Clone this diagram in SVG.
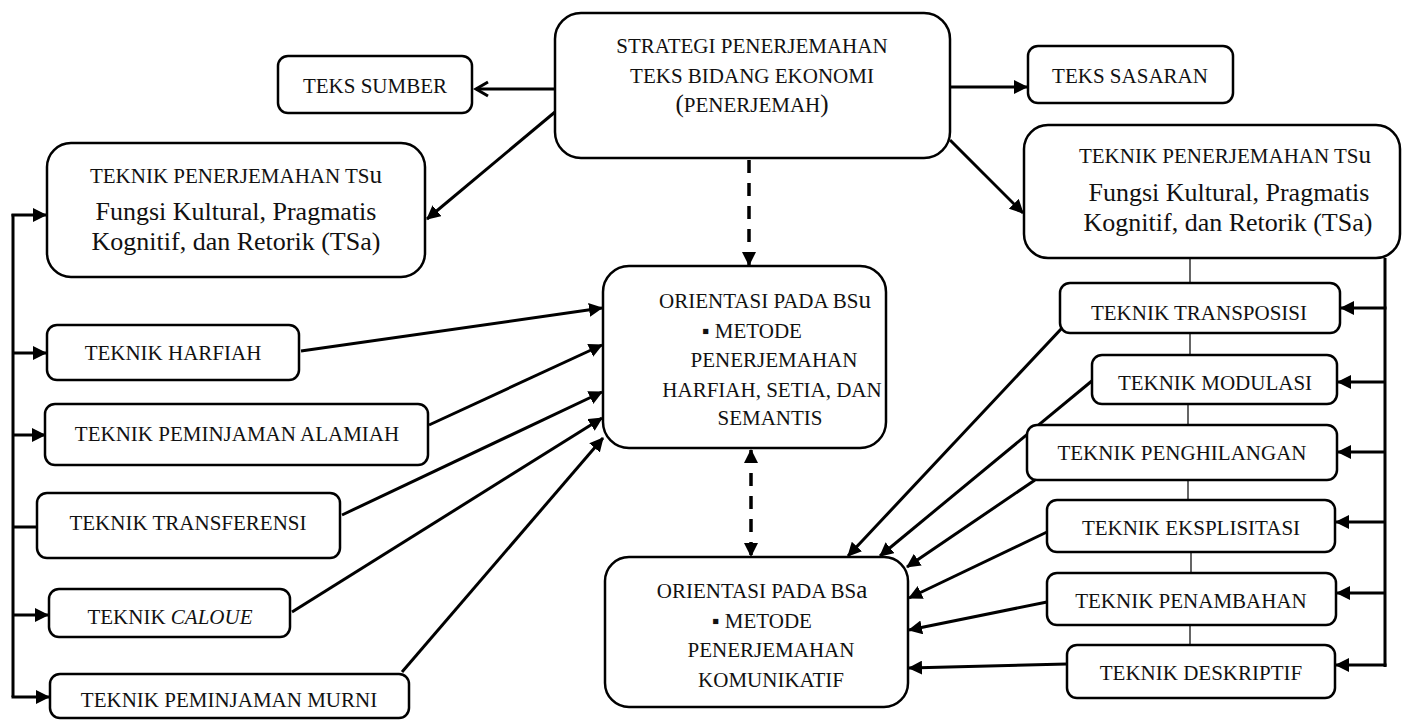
<svg xmlns="http://www.w3.org/2000/svg" width="1405" height="720" viewBox="0 0 1405 720">
<style>
.box{fill:#fff;stroke:#000;stroke-width:2.5}
.t{font-family:"Liberation Serif","Times New Roman",serif;font-size:21px;fill:#111;text-anchor:middle}
.big{font-size:26px}
.c{fill:none;stroke:#000;stroke-width:3}
.d{fill:none;stroke:#000;stroke-width:3.5;stroke-dasharray:13 10}
.thin{fill:none;stroke:#000;stroke-width:1.2}
</style>
<defs>
<marker id="a" markerUnits="userSpaceOnUse" markerWidth="14" markerHeight="14" refX="13" refY="7" orient="auto-start-reverse">
<path d="M0,0 L14,7 L0,14 z" fill="#000"/>
</marker>
<marker id="o" markerUnits="userSpaceOnUse" markerWidth="18" markerHeight="18" refX="14" refY="9" orient="auto">
<path d="M2,2 L14,9 L2,16" fill="none" stroke="#000" stroke-width="3"/>
</marker>
</defs>

<g id="connectors">
<path class="c" d="M555,89 L476,89" marker-end="url(#o)"/>
<path class="c" d="M950,87 L1027,87" marker-end="url(#a)"/>
<path class="c" d="M555,112 L427,219" marker-end="url(#a)"/>
<path class="c" d="M950,140 L1023,213" marker-end="url(#a)"/>
<path class="d" d="M749,160 L749,265" marker-end="url(#a)"/>
<path class="d" d="M751,450 L751,556" marker-start="url(#a)" marker-end="url(#a)"/>
<!-- left bar -->
<path class="c" d="M13,214 L13,697"/>
<path class="c" d="M11.5,215 L46,215" marker-end="url(#a)"/>
<path class="c" d="M13,353 L46,353" marker-end="url(#a)"/>
<path class="c" d="M13,435 L45,435" marker-end="url(#a)"/>
<path class="c" d="M13,527 L49,527" marker-end="url(#a)"/>
<path class="c" d="M13,615 L48,615" marker-end="url(#a)"/>
<path class="c" d="M11.5,697 L49,697" marker-end="url(#a)"/>
<!-- left to BSu -->
<path class="c" d="M301,351 L602,308" marker-end="url(#a)"/>
<path class="c" d="M429,425 L602,345" marker-end="url(#a)"/>
<path class="c" d="M342,515 L602,392" marker-end="url(#a)"/>
<path class="c" d="M292,612 L602,418" marker-end="url(#a)"/>
<path class="c" d="M402,672 L603,438" marker-end="url(#a)"/>
<!-- right bar -->
<path class="c" d="M1385,258 L1385,667"/>
<path class="c" d="M1386.5,308 L1341,308" marker-end="url(#a)"/>
<path class="c" d="M1385,382 L1338,382" marker-end="url(#a)"/>
<path class="c" d="M1385,452 L1338,452" marker-end="url(#a)"/>
<path class="c" d="M1385,522 L1336,522" marker-end="url(#a)"/>
<path class="c" d="M1385,593 L1337,593" marker-end="url(#a)"/>
<path class="c" d="M1386.5,665 L1336,665" marker-end="url(#a)"/>
<!-- thin chain -->
<path class="thin" d="M1190,258 L1190,283 M1190,333 L1190,355 M1188,404 L1188,425 M1188,480 L1188,500 M1191,552 L1191,573 M1190,625 L1190,645"/>
<!-- right to BSa -->
<path class="c" d="M1062,328 L848,556" marker-end="url(#a)"/>
<path class="c" d="M1093,380 L880,556" marker-end="url(#a)"/>
<path class="c" d="M1035,480 L907,567" marker-end="url(#a)"/>
<path class="c" d="M1047,532 L909,598" marker-end="url(#a)"/>
<path class="c" d="M1047,602 L909,630" marker-end="url(#a)"/>
<path class="c" d="M1067,664 L909,668" marker-end="url(#a)"/>
</g>

<g id="strategi">
<rect class="box" x="555" y="13" width="395" height="145" rx="26"/>
<text class="t" x="752" y="53">STRATEGI PENERJEMAHAN</text>
<text class="t" x="752" y="83">TEKS BIDANG EKONOMI</text>
<text class="t" x="752" y="112"><tspan font-size="25">(</tspan>PENERJEMAH<tspan font-size="25">)</tspan></text>
</g>

<g id="teks-sumber">
<rect class="box" x="278" y="56" width="194" height="57" rx="10"/>
<text class="t" x="375" y="93">TEKS SUMBER</text>
</g>

<g id="teks-sasaran">
<rect class="box" x="1028" y="46" width="205" height="57" rx="10"/>
<text class="t" x="1130" y="83">TEKS SASARAN</text>
</g>

<g id="teknik-tsu-left">
<rect class="box" x="47" y="143" width="378" height="134" rx="24"/>
<text class="t" x="236" y="183">TEKNIK PENERJEMAHAN TS<tspan font-size="25">u</tspan></text>
<text class="t big" x="236" y="220">Fungsi Kultural, Pragmatis</text>
<text class="t big" x="236" y="250">Kognitif, dan Retorik (TSa)</text>
</g>

<g id="teknik-tsu-right">
<rect class="box" x="1024" y="125" width="376" height="133" rx="24"/>
<text class="t" x="1225" y="163">TEKNIK PENERJEMAHAN TS<tspan font-size="25">u</tspan></text>
<text class="t big" x="1229" y="201">Fungsi Kultural, Pragmatis</text>
<text class="t big" x="1228" y="231">Kognitif, dan Retorik (TSa)</text>
</g>

<g id="orientasi-bsu">
<rect class="box" x="603" y="266" width="283" height="182" rx="26"/>
<text class="t" x="765" y="308">ORIENTASI PADA BS<tspan font-size="25">u</tspan></text>
<text class="t" x="752" y="338">▪ METODE</text>
<text class="t" x="774" y="367">PENERJEMAHAN</text>
<text class="t" x="772" y="397">HARFIAH, SETIA, DAN</text>
<text class="t" x="770" y="425">SEMANTIS</text>
</g>

<g id="orientasi-bsa">
<rect class="box" x="605" y="557" width="303" height="150" rx="24"/>
<text class="t" x="762" y="598">ORIENTASI PADA BS<tspan font-size="25">a</tspan></text>
<text class="t" x="762" y="628">▪ METODE</text>
<text class="t" x="771" y="657">PENERJEMAHAN</text>
<text class="t" x="771" y="687">KOMUNIKATIF</text>
</g>

<g id="harfiah">
<rect class="box" x="47" y="325" width="252" height="55" rx="10"/>
<text class="t" x="173" y="360">TEKNIK HARFIAH</text>
</g>
<g id="peminjaman-alamiah">
<rect class="box" x="45" y="404" width="383" height="61" rx="10"/>
<text class="t" x="237" y="441">TEKNIK PEMINJAMAN ALAMIAH</text>
</g>
<g id="transferensi">
<rect class="box" x="37" y="493" width="303" height="65" rx="10"/>
<text class="t" x="188" y="530">TEKNIK TRANSFERENSI</text>
</g>
<g id="caloue">
<rect class="box" x="49" y="589" width="241" height="48" rx="10"/>
<text class="t" x="170" y="624">TEKNIK <tspan font-style="italic">CALOUE</tspan></text>
</g>
<g id="peminjaman-murni">
<rect class="box" x="50" y="674" width="359" height="44" rx="10"/>
<text class="t" x="229" y="707">TEKNIK PEMINJAMAN MURNI</text>
</g>

<g id="transposisi">
<rect class="box" x="1060" y="283" width="280" height="50" rx="10"/>
<text class="t" x="1199" y="320">TEKNIK TRANSPOSISI</text>
</g>
<g id="modulasi">
<rect class="box" x="1092" y="355" width="245" height="49" rx="10"/>
<text class="t" x="1215" y="390">TEKNIK MODULASI</text>
</g>
<g id="penghilangan">
<rect class="box" x="1027" y="425" width="310" height="55" rx="10"/>
<text class="t" x="1182" y="460">TEKNIK PENGHILANGAN</text>
</g>
<g id="eksplisitasi">
<rect class="box" x="1047" y="500" width="288" height="52" rx="10"/>
<text class="t" x="1191" y="535">TEKNIK EKSPLISITASI</text>
</g>
<g id="penambahan">
<rect class="box" x="1047" y="573" width="289" height="52" rx="10"/>
<text class="t" x="1191" y="608">TEKNIK PENAMBAHAN</text>
</g>
<g id="deskriptif">
<rect class="box" x="1067" y="645" width="268" height="53" rx="10"/>
<text class="t" x="1201" y="680">TEKNIK DESKRIPTIF</text>
</g>
</svg>
